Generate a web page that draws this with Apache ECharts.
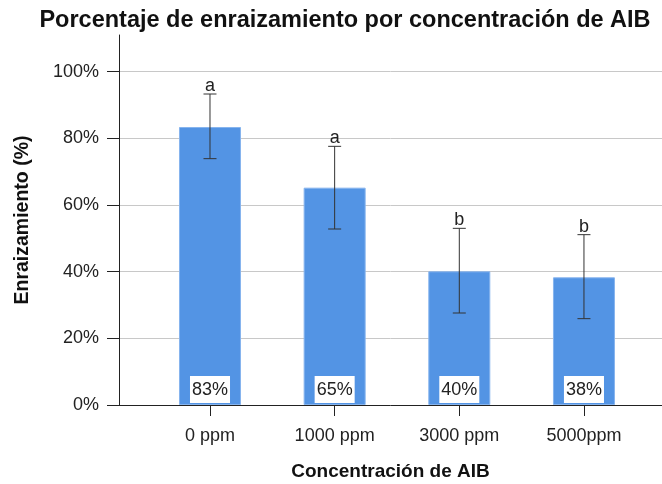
<!DOCTYPE html>
<html><head><meta charset="utf-8">
<script src="https://cdn.jsdelivr.net/npm/echarts@6/dist/echarts.min.js"></script>
<style>html,body{margin:0;padding:0;background:#fff}#c{width:662px;height:484px}</style>
</head><body><div id="c"></div>
<script>
const categories = ['0 ppm', '1000 ppm', '3000 ppm', '5000ppm'];
const rooting = [83.4, 65.2, 40.1, 38.3];
const errLow = [73.9, 52.8, 27.6, 25.9];
const errHigh = [93.3, 77.6, 53.0, 51.1];
const groups = ['a', 'a', 'b', 'b'];
const yTicks = [0, 20, 40, 60, 80, 100];

const FONT = '"Liberation Sans", Arial, sans-serif';
const chart = echarts.init(document.getElementById('c'), null, {renderer: 'canvas'});

const barData = rooting.map((v, i) => [i, v]);
const errData = rooting.map((v, i) => [i, errLow[i], errHigh[i], groups[i]]);

const option = {
  animation: false,
  backgroundColor: '#fff',
  textStyle: {fontFamily: FONT},
  title: {
    text: 'Porcentaje de enraizamiento por concentración de AIB',
    left: 340, top: 4, textAlign: 'center',
    textStyle: {fontFamily: FONT, fontWeight: 'bold', fontSize: 23.5, color: '#111'}
  },
  grid: {left: 119, right: 0, top: 35, bottom: 79, containLabel: false, outerBoundsMode: 'none'},
  xAxis: {
    type: 'value',
    min: -0.73, max: 3.626,
    name: 'Concentración de AIB',
    nameLocation: 'middle', nameGap: 57,
    nameTextStyle: {fontFamily: FONT, fontWeight: 'bold', fontSize: 19, color: '#111'},
    axisLine: {show: true, onZero: false, lineStyle: {color: '#222', width: 1}},
    axisTick: {show: true, length: 11, lineStyle: {color: '#222'}, customValues: [0, 1, 2, 3]},
    axisLabel: {
      customValues: [0, 1, 2, 3],
      margin: 22, fontSize: 18, color: '#222', fontFamily: FONT,
      formatter: v => (Number.isInteger(v) && categories[v] !== undefined) ? categories[v] : ''
    },
    splitLine: {show: false}
  },
  yAxis: {
    type: 'value',
    min: 0, max: 111,
    name: 'Enraizamiento (%)',
    nameLocation: 'middle', nameGap: 86, nameRotate: 90,
    nameTextStyle: {fontFamily: FONT, fontWeight: 'bold', fontSize: 19.5, color: '#111'},
    axisLine: {show: true, onZero: false, lineStyle: {color: '#222', width: 1}},
    axisTick: {show: true, length: 12, lineStyle: {color: '#222'}, customValues: yTicks},
    axisLabel: {
      customValues: yTicks,
      margin: 20, fontSize: 18, color: '#222', fontFamily: FONT,
      formatter: v => yTicks.includes(v) ? v + '%' : ''
    },
    splitLine: {show: true, lineStyle: {color: ['#c8c8c8', '#c8c8c8', '#c8c8c8', '#c8c8c8', '#c8c8c8', '#c8c8c8', 'rgba(0,0,0,0)'], width: 1}}
  },
  series: [
    {
      type: 'bar',
      data: barData,
      barWidth: 62,
      itemStyle: {color: '#5394e4', borderColor: '#86b4ee', borderWidth: 1},
      label: {
        show: true, position: 'insideBottom', distance: 2,
        formatter: p => Math.round(p.value[1]) + '%',
        backgroundColor: '#fff', padding: [5, 2, 4, 2],
        fontSize: 18, color: '#222', fontFamily: FONT
      },
      z: 2
    },
    {
      type: 'custom',
      data: errData,
      z: 5,
      renderItem: (params, api) => {
        const x = api.value(0);
        const lo = api.coord([x, api.value(1)]);
        const hi = api.coord([x, api.value(2)]);
        const cap = 6.5;
        const style = {stroke: '#333', lineWidth: 1};
        return {
          type: 'group',
          children: [
            {type: 'line', shape: {x1: hi[0], y1: hi[1], x2: lo[0], y2: lo[1]}, style},
            {type: 'line', shape: {x1: hi[0] - cap, y1: hi[1], x2: hi[0] + cap, y2: hi[1]}, style},
            {type: 'line', shape: {x1: lo[0] - cap, y1: lo[1], x2: lo[0] + cap, y2: lo[1]}, style},
            {type: 'text', style: {
              x: hi[0], y: hi[1] + 1, text: errData[params.dataIndex][3],
              textAlign: 'center', textVerticalAlign: 'bottom',
              font: '18px ' + FONT, fill: '#222'
            }}
          ]
        };
      }
    }
  ]
};
chart.setOption(option);
</script>
</body></html>
